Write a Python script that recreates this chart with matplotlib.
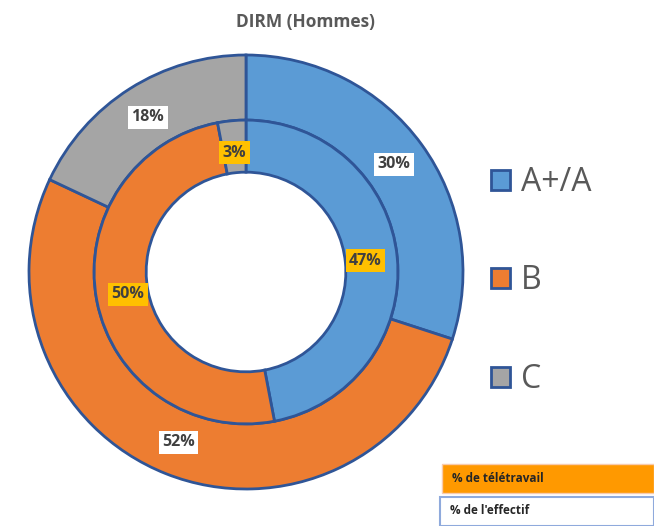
import matplotlib.pyplot as plt
from matplotlib.patches import Rectangle

categories = ['A+/A', 'B', 'C']
effectif = [30, 52, 18]      # outer ring: % de l'effectif
teletravail = [47, 50, 3]    # inner ring: % de télétravail
colors = ['#5B9BD5', '#ED7D31', '#A5A5A5']
edge = '#2F5597'

plt.rcParams['font.family'] = ['Open Sans', 'DejaVu Sans']

fig = plt.figure(figsize=(6.54, 5.26), dpi=100)
# square axes centred on the donut
cx, cy, r = 246, 272, 217
ax = fig.add_axes([(cx - r) / 654, (526 - cy - r) / 526, 2 * r / 654, 2 * r / 526])

wedges, _, t_out = ax.pie(effectif, radius=1.0, colors=colors, startangle=90, counterclock=False,
                          autopct='%d%%', pctdistance=0.845,
                          wedgeprops=dict(width=0.30, edgecolor=edge, linewidth=2))
_, _, t_in = ax.pie(teletravail, radius=0.70, colors=colors, startangle=90, counterclock=False,
                    autopct='%d%%', pctdistance=0.79,
                    wedgeprops=dict(width=0.24, edgecolor=edge, linewidth=2))
for t in t_out:
    t.set(fontsize=11.5, fontweight='bold', color='#404040')
    t.set_bbox(dict(facecolor='white', edgecolor='none', pad=2.5))
for t in t_in:
    t.set(fontsize=11.5, fontweight='bold', color='#404040')
    t.set_bbox(dict(facecolor='#FFC000', edgecolor='none', pad=2.5))
ax.set_xlim(-1, 1)
ax.set_ylim(-1, 1)
ax.set_aspect('equal')

fig.text(305 / 654, 1 - 22 / 526, 'DIRM (Hommes)', ha='center', va='center',
         fontsize=12.5, fontweight='bold', color='#595959')

fig.legend(wedges, categories, loc='center left', bbox_to_anchor=(462 / 654, 1 - 281 / 526),
           frameon=False, fontsize=23, labelspacing=2.05, handlelength=0.6, handleheight=0.6,
           handletextpad=0.35, labelcolor='#595959')

# little caption boxes bottom right
fig.patches.append(Rectangle((442 / 654, 1 - 493 / 526), 212 / 654, 29 / 526,
                             transform=fig.transFigure, facecolor='#FF9900', edgecolor='#F8CBAD', lw=1))
fig.patches.append(Rectangle((440 / 654, 1 - 526 / 526), 214 / 654, 29 / 526,
                             transform=fig.transFigure, facecolor='white', edgecolor='#8FAADC', lw=1.5))
fig.text(452 / 654, 1 - 478 / 526, '% de télétravail', ha='left', va='center', fontsize=8.5,
         fontweight='bold', color='#262626')
fig.text(450 / 654, 1 - 511 / 526, "% de l'effectif", ha='left', va='center', fontsize=8.5,
         fontweight='bold', color='#262626')

fig.savefig('out.png', dpi=100)
